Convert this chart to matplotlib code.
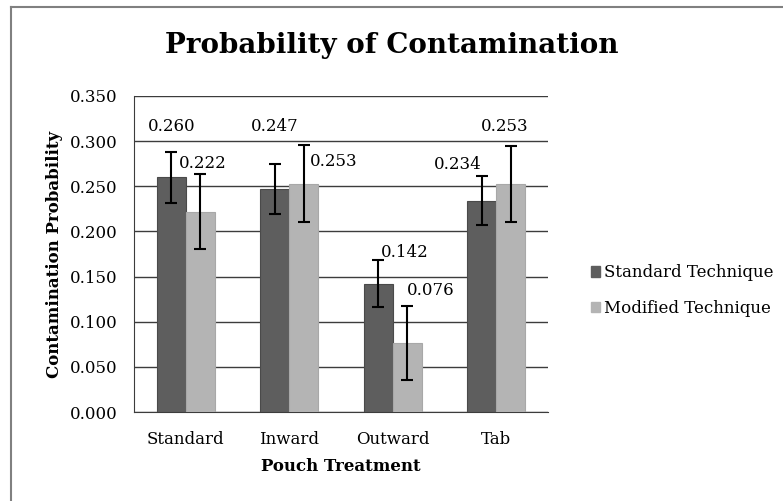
import numpy as np
import matplotlib
matplotlib.use("Agg")
import matplotlib.pyplot as plt
from matplotlib.lines import Line2D

# Data
categories = ["Standard", "Inward", "Outward", "Tab"]
standard_vals = [0.260, 0.247, 0.142, 0.234]
modified_vals = [0.222, 0.253, 0.076, 0.253]
standard_err = [0.028, 0.028, 0.026, 0.027]
modified_err = [0.042, 0.043, 0.041, 0.042]
yticks = [0.000, 0.050, 0.100, 0.150, 0.200, 0.250, 0.300, 0.350]

# label placement (x offset from bar centre, y in data units), Excel style
std_label_pos = [(0.0, 0.316), (0.0, 0.316), (0.26, 0.177), (-0.23, 0.274)]
mod_label_pos = [(0.02, 0.275), (0.29, 0.277), (0.23, 0.135), (-0.06, 0.316)]

dark = "#5e5e5e"
light = "#b4b4b4"
fs = 12

plt.rcParams['font.family'] = ['DejaVu Serif']

fig = plt.figure(figsize=(7.83, 5.01), dpi=100)
ax = fig.add_axes([0.1711, 0.1776, 0.5288, 0.6308])

x = np.arange(len(categories))
w = 0.28
ax.bar(x - w / 2, standard_vals, w, color=dark, edgecolor="#4a4a4a", linewidth=0.8, zorder=3)
ax.bar(x + w / 2, modified_vals, w, color=light, edgecolor="#a8a8a8", linewidth=0.8, zorder=3)
ax.errorbar(x - w / 2, standard_vals, yerr=standard_err, fmt="none", ecolor="black",
            elinewidth=1.5, capsize=4.5, capthick=1.5, zorder=4)
ax.errorbar(x + w / 2, modified_vals, yerr=modified_err, fmt="none", ecolor="black",
            elinewidth=1.5, capsize=4.5, capthick=1.5, zorder=4)

for i in range(len(categories)):
    dx, yy = std_label_pos[i]
    ax.text(x[i] - w / 2 + dx, yy, f"{standard_vals[i]:.3f}", ha="center", va="center",
            fontsize=fs, zorder=5)
    dx, yy = mod_label_pos[i]
    ax.text(x[i] + w / 2 + dx, yy, f"{modified_vals[i]:.3f}", ha="center", va="center",
            fontsize=fs, zorder=5)

ax.set_xlim(-0.5, len(categories) - 0.5)
ax.set_ylim(0, 0.35)
ax.set_yticks(yticks)
ax.set_yticklabels([f"{v:.3f}" for v in yticks], fontsize=fs)
ax.set_xticks(x)
ax.set_xticklabels(categories, fontsize=fs)
ax.tick_params(axis="both", length=0)
ax.tick_params(axis="y", pad=12)
ax.tick_params(axis="x", pad=14)
ax.yaxis.grid(True, color="#3c3c3c", linewidth=1.0, zorder=0)
ax.set_axisbelow(True)
for s in ["top", "right"]:
    ax.spines[s].set_visible(False)
ax.spines["left"].set_color("#3c3c3c")
ax.spines["bottom"].set_color("#3c3c3c")

ax.set_xlabel("Pouch Treatment", fontsize=fs, fontweight="bold", labelpad=7)
ax.set_ylabel("Contamination Probability", fontsize=fs, fontweight="bold", labelpad=5)

fig.text(0.5, 0.91, "Probability of Contamination", ha="center", va="center",
         fontsize=20, fontweight="bold")

handles = [plt.Rectangle((0, 0), 1, 1, color=dark), plt.Rectangle((0, 0), 1, 1, color=light)]
fig.legend(handles, ["Standard Technique", "Modified Technique"], loc="center left",
           bbox_to_anchor=(0.735, 0.42), frameon=False, fontsize=fs,
           handlelength=0.55, handleheight=0.55, handletextpad=0.25, labelspacing=1.1)

# image frame (top and left edges)
fig.add_artist(Line2D([10.5 / 783, 1], [1 - 6.5 / 501] * 2, color="#808080", lw=1.5))
fig.add_artist(Line2D([10.5 / 783] * 2, [0, 1 - 6.5 / 501], color="#808080", lw=1.5))

fig.savefig("out.png", dpi=100)
